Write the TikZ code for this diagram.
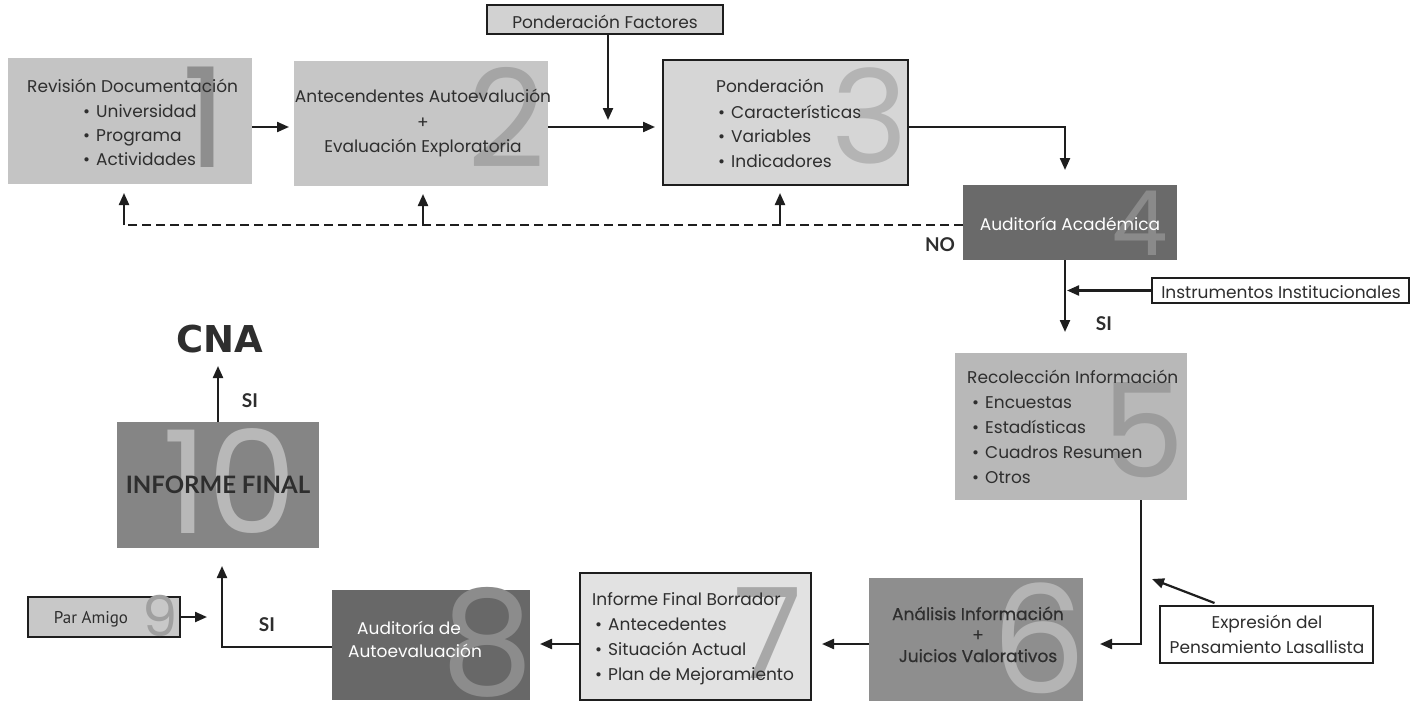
\documentclass[tikz,border=0pt]{standalone}
\usepackage{fontspec}
\setmainfont{Poppins}
\newfontfamily\lato{Lato}
\newfontfamily\dejavu{DejaVu Sans}
\newfontfamily\ptsans{PT Sans}
\newfontfamily\popsemi[FakeBold=0.5]{Poppins}
\usetikzlibrary{arrows.meta,calc}
\definecolor{txt}{HTML}{2E2E2E}
\definecolor{linec}{HTML}{1E1E1E}
\definecolor{f1}{HTML}{C4C4C4}\definecolor{n1}{HTML}{8E8E8E}
\definecolor{f2}{HTML}{C6C6C6}\definecolor{n2}{HTML}{A5A5A5}
\definecolor{fpf}{HTML}{D2D2D2}
\definecolor{f3}{HTML}{D6D6D6}\definecolor{n3}{HTML}{B4B4B4}
\definecolor{f4}{HTML}{6A6A6A}\definecolor{n4}{HTML}{8A8A8A}
\definecolor{f5}{HTML}{B8B8B8}\definecolor{n5}{HTML}{9C9C9C}
\definecolor{f6}{HTML}{8E8E8E}\definecolor{n6}{HTML}{B4B4B4}
\definecolor{f7}{HTML}{E2E2E2}\definecolor{n7}{HTML}{A8A8A8}
\definecolor{f8}{HTML}{686868}\definecolor{n8}{HTML}{8C8C8C}
\definecolor{f9}{HTML}{C8C8C8}\definecolor{n9}{HTML}{A0A0A0}
\definecolor{f10}{HTML}{858585}\definecolor{n10}{HTML}{B8B8B8}
\begin{document}
\begin{tikzpicture}[x=1pt,y=-1pt,
  box/.style={anchor=north west, inner sep=0pt, outer sep=0pt, draw=none},
  frame/.style={draw=linec, line width=1.3pt},
  num/.style={anchor=base, inner sep=0pt},
  tx/.style={anchor=base west, inner sep=0pt, text=txt, font=\fontsize{17}{20}\selectfont},
  tc/.style={anchor=base, inner sep=0pt, text=txt, font=\fontsize{17}{20}\selectfont},
  lab/.style={anchor=base, inner sep=0pt, text=txt, font=\lato\bfseries\fontsize{19}{20}\selectfont},
  arr/.style={line width=2.2pt, draw=linec, -{Triangle[length=12pt,width=10pt]}},
  ln/.style={line width=2.2pt, draw=linec}
]
\useasboundingbox (0,0) rectangle (1419,702);
\fill[white] (0,0) rectangle (1419,702);

% ---------- boxes ----------
\node[box, fill=f1, minimum width=244pt, minimum height=126pt] (b1) at (8,58) {};
\node[box, fill=f2, minimum width=254pt, minimum height=125pt] (b2) at (294,61) {};
\node[box, frame, fill=fpf, minimum width=236pt, minimum height=29pt] (pf) at (487,5) {};
\node[box, frame, fill=f3, minimum width=245pt, minimum height=125pt] (b3) at (663,60) {};
\node[box, fill=f4, minimum width=214pt, minimum height=75pt] (b4) at (963,185) {};
\node[box, frame, fill=white, minimum width=257pt, minimum height=25pt] (ii) at (1152,278) {};
\node[box, fill=f5, minimum width=232pt, minimum height=147pt] (b5) at (955,353) {};
\node[box, fill=f6, minimum width=214pt, minimum height=123pt] (b6) at (869,578) {};
\node[box, frame, fill=white, minimum width=213pt, minimum height=57pt] (ep) at (1160,606) {};
\node[box, frame, fill=f7, minimum width=231pt, minimum height=127pt] (b7) at (580,573) {};
\node[box, fill=f8, minimum width=198pt, minimum height=110pt] (b8) at (332,590) {};
\node[box, frame, fill=f9, minimum width=152pt, minimum height=40pt] (pa) at (28,597) {};
\node[box, fill=f10, minimum width=202pt, minimum height=126pt] (b10) at (117,422) {};

% ---------- big numbers ----------
\node[num, text=n1, font=\fontsize{139}{139}\selectfont] (d1) at (205,167) {1};
\node[num, text=n2, font=\fontsize{136}{136}\selectfont] (d2) at (507,167) {2};
\node[num, text=n3, font=\fontsize{130}{130}\selectfont] (d3) at (870,163) {3};
\node[num, text=n4, font=\fontsize{90}{90}\selectfont] (d4) at (1140,255) {4};
\node[num, text=n5, font=\fontsize{131}{131}\selectfont] (d5) at (1144,477) {5};
\node[num, text=n6, font=\fontsize{150}{150}\selectfont] (d6) at (1039,693) {6};
\node[num, text=n7, font=\fontsize{126}{126}\selectfont] (d7) at (768,678) {7};
\node[num, text=n8, font=\fontsize{146}{146}\selectfont] (d8) at (488,694) {8};
\node[num, text=n9, font=\fontsize{56}{56}\selectfont] (d9) at (160,636) {9};
\node[num, text=n10, font=\fontsize{143}{143}\selectfont] (d10) at (230,533) {10};

% ---------- texts ----------
\node[tx] (t1a) at (27,92) {Revisión Documentación};
\node[tx] (t1b) at (83,117) {•\hspace{6pt}Universidad};
\node[tx] (t1c) at (83,141) {•\hspace{6pt}Programa};
\node[tx] (t1d) at (83,165) {•\hspace{6pt}Actividades};

\node[tc] (t2a) at (423,102) {Antecendentes Autoevalución};
\node[tc] (t2b) at (423,128) {+};
\node[tc] (t2c) at (423,152) {Evaluación Exploratoria};

\node[tc] (tpf) at (605,28) {Ponderación Factores};

\node[tx] (t3a) at (716,92) {Ponderación};
\node[tx] (t3b) at (718,118) {•\hspace{6pt}Características};
\node[tx] (t3c) at (718,142) {•\hspace{6pt}Variables};
\node[tx] (t3d) at (718,167) {•\hspace{6pt}Indicadores};

\node[tc, text=white] (t4) at (1070,230) {Auditoría Académica};
\node[tc] (tii) at (1281,298) {Instrumentos Institucionales};

\node[tx] (t5a) at (967,383) {Recolección Información};
\node[tx] (t5b) at (972,408) {•\hspace{6pt}Encuestas};
\node[tx] (t5c) at (972,433) {•\hspace{6pt}Estadísticas};
\node[tx] (t5d) at (972,458) {•\hspace{6pt}Cuadros Resumen};
\node[tx] (t5e) at (972,483) {•\hspace{6pt}Otros};

\node[tc, font=\popsemi\fontsize{17}{20}\selectfont] (t6a) at (978,620) {Análisis Información};
\node[tc, font=\popsemi\fontsize{17}{20}\selectfont] (t6b) at (978,641) {+};
\node[tc, font=\popsemi\fontsize{17}{20}\selectfont] (t6c) at (978,662) {Juicios Valorativos};

\node[tc] (tepa) at (1267,628) {Expresión del};
\node[tc] (tepb) at (1267,653) {Pensamiento Lasallista};

\node[tx] (t7a) at (592,605) {Informe Final Borrador};
\node[tx] (t7b) at (595,630) {•\hspace{6pt}Antecedentes};
\node[tx] (t7c) at (595,655) {•\hspace{6pt}Situación Actual};
\node[tx] (t7d) at (595,680) {•\hspace{6pt}Plan de Mejoramiento};

\node[tc, text=white] (t8a) at (409,634) {Auditoría de};
\node[tc, text=white] (t8b) at (415,657) {Autoevaluación};

\node[tc, font=\ptsans\fontsize{17}{20}\selectfont] (t9) at (91,623) {Par Amigo};

\node[lab, font=\lato\bfseries\fontsize{24}{26}\selectfont] (t10) at (218,493) {INFORME FINAL};
\node[lab, font=\dejavu\bfseries\fontsize{37}{38}\selectfont] (cna) at (220,352) {CNA};

\node[lab] (no) at (940,251) {NO};
\node[lab] (si1) at (1104,330) {SI};
\node[lab] (si2) at (250,407) {SI};
\node[lab] (si3) at (267,631) {SI};

% ---------- connectors ----------
\coordinate (r1) at (0,127);
\draw[arr] (b1.east|-r1) -- ($(b2.west|-r1)+(-5,0)$);
\draw[arr] (b2.east|-r1) -- ($(b3.west|-r1)+(-8,0)$);
\coordinate (c3) at (608,120);
\draw[arr] (pf.south-|c3) -- (c3);
\coordinate (c4) at (1065,0);
\draw[arr] (b3.east|-r1) -| ($(c4|-b4.north)+(0,-15)$);

\coordinate (d0) at (0,225);
\coordinate (u1) at (124,225);
\coordinate (u2) at (423,225);
\coordinate (u3) at (780,225);
\draw[ln, dash pattern=on 9pt off 5pt] (b4.west|-d0) -- (u1);
\draw[arr] (u1) -- ($(u1|-b1.south)+(0,9)$);
\draw[arr] (u2) -- ($(u2|-b2.south)+(0,8)$);
\draw[arr] (u3) -- ($(u3|-b3.south)+(0,8)$);

\coordinate (e4) at (1065,332);
\draw[arr] (c4|-b4.south) -- (e4);
\draw[arr] (ii.west) -- ($(c4|-ii.west)+(2,0)$);

\coordinate (k) at (1141,644);
\draw[arr] (k|-b5.south) -- (k) -- ($(b6.east|-k)+(17,0)$);
\coordinate (t6) at (1152,579);
\draw[arr] ($(ep.north)+(-52,-3)$) -- (t6);
\draw[arr] (b6.west|-k) -- ($(b7.east|-k)+(11,0)$);
\draw[arr] (b7.west|-k) -- ($(b8.east|-k)+(10,0)$);

\coordinate (m) at (222,647);
\draw[arr] (b8.west|-m) -- (m) -- ($(m|-b10.south)+(0,18)$);
\draw[arr] (pa.east) -- ($(m|-pa.east)+(-15,0)$);
\draw[arr] (b10.north) -- ($(b10.north|-cna.base)+(0,14)$);
\end{tikzpicture}
\end{document}
